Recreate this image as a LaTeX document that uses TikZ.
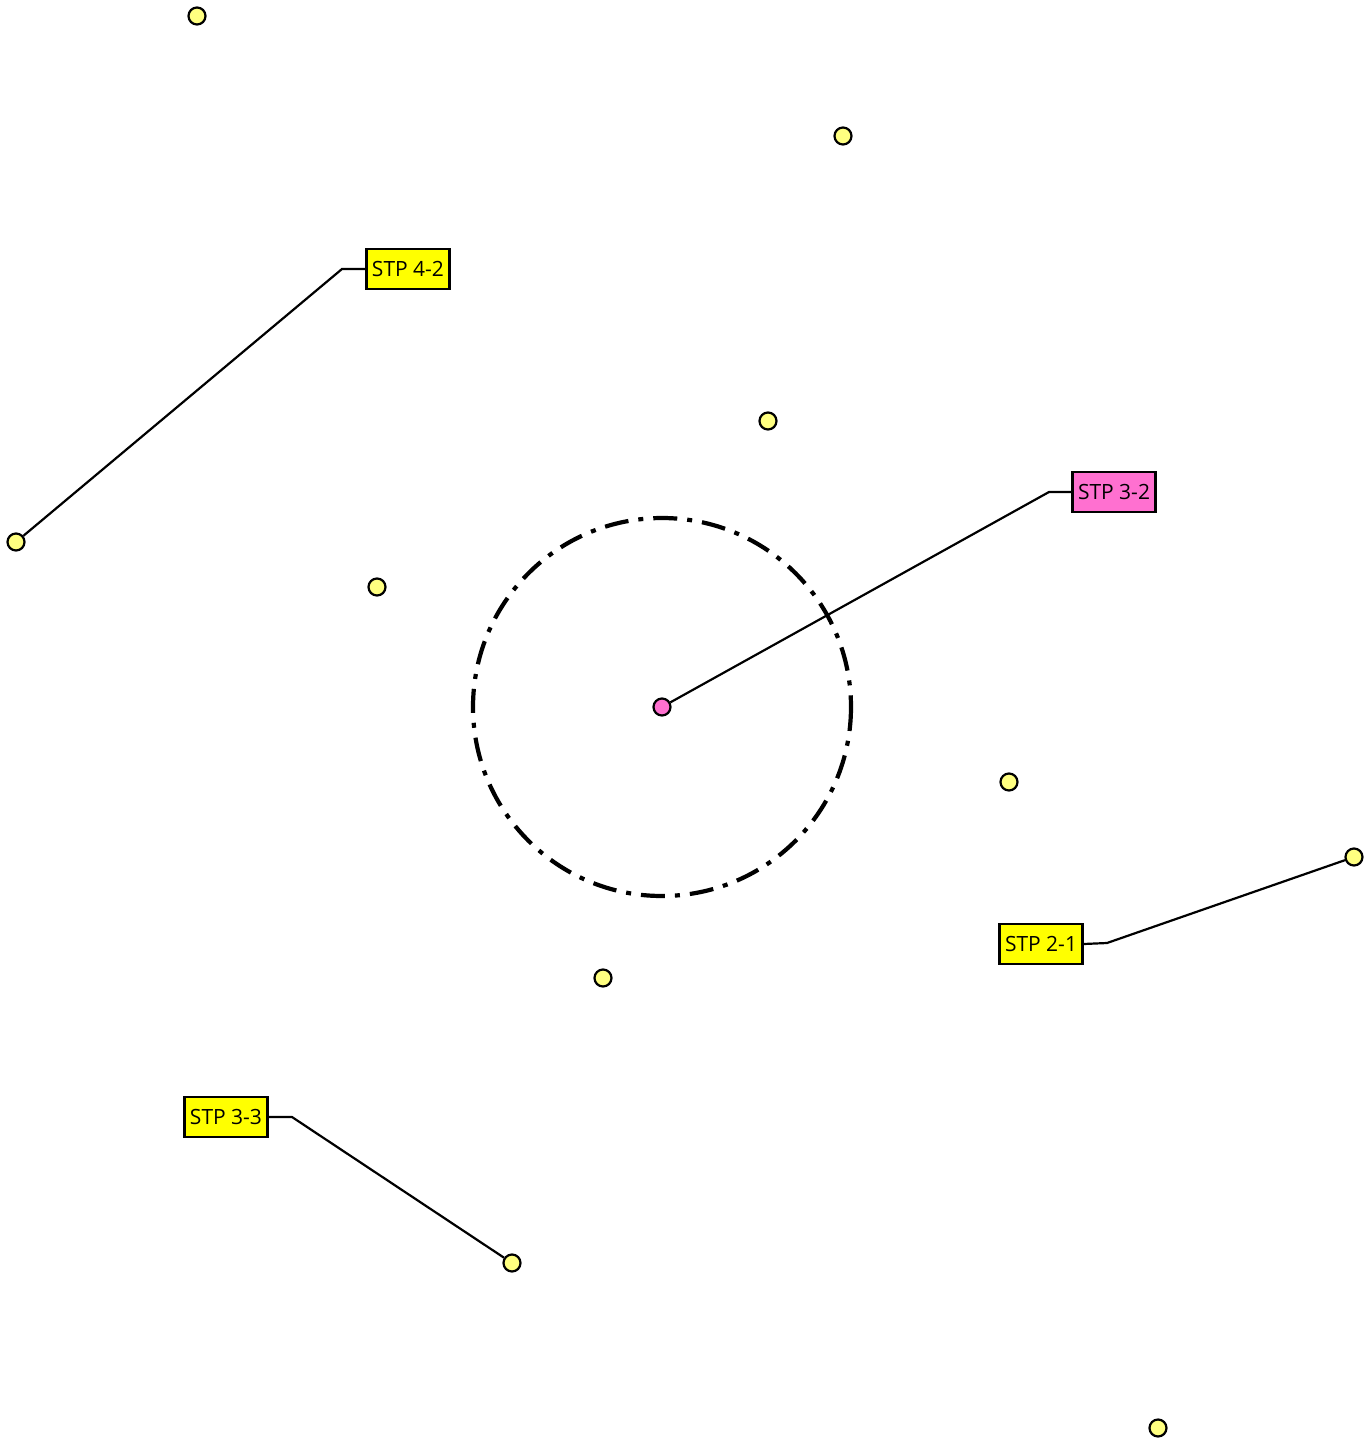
\documentclass[tikz,border=0pt]{standalone}
\usepackage{fontspec}
\setmainfont{Open Sans}
\definecolor{dotyellow}{HTML}{FFFF80}
\definecolor{boxyellow}{HTML}{FFFF00}
\definecolor{pinkfill}{HTML}{FF70D0}
\begin{document}
\begin{tikzpicture}[x=1pt,y=-1pt,
  site/.style={circle,draw=black,line width=2.2pt,fill=dotyellow,minimum size=17pt,inner sep=0pt},
  pinksite/.style={site,fill=pinkfill},
  tag/.style={draw=black,line width=2.2pt,fill=boxyellow,minimum width=83pt,minimum height=40pt,inner sep=0pt,font=\fontsize{21}{23}\selectfont},
  pinktag/.style={tag,fill=pinkfill},
  leader/.style={draw=black,line width=2.2pt}]
\useasboundingbox (0,0) rectangle (1372,1448);
\draw[line width=4.2pt,dash pattern=on 24pt off 10pt on 5pt off 10pt] (662,707) circle (189);
\node[site] (s1) at (197,16) {};
\node[site] (s2) at (843,136) {};
\node[site] (s3) at (768,421) {};
\node[site] (s4) at (16,542) {};
\node[site] (s5) at (377,587) {};
\node[pinksite] (s6) at (662,707) {};
\node[site] (s7) at (1009,782) {};
\node[site] (s8) at (1354,857) {};
\node[site] (s9) at (603,978) {};
\node[site] (s10) at (512,1263) {};
\node[site] (s11) at (1158,1428) {};
\node[tag] (t42) at (408,269) {STP 4-2};
\node[pinktag] (t32) at (1114,492) {STP 3-2};
\node[tag] (t21) at (1041,944) {STP 2-1};
\node[tag] (t33) at (226,1117) {STP 3-3};
\coordinate (k42) at (342,269);
\coordinate (k32) at (1049,492);
\coordinate (k21) at (1107,943);
\coordinate (k33) at (292,1117);
\draw[leader] (t42.west) -- (k42) -- (s4);
\draw[leader] (t32.west) -- (k32) -- (s6);
\draw[leader] (t21.east) -- (k21) -- (s8);
\draw[leader] (t33.east) -- (k33) -- (s10);
\end{tikzpicture}
\end{document}
